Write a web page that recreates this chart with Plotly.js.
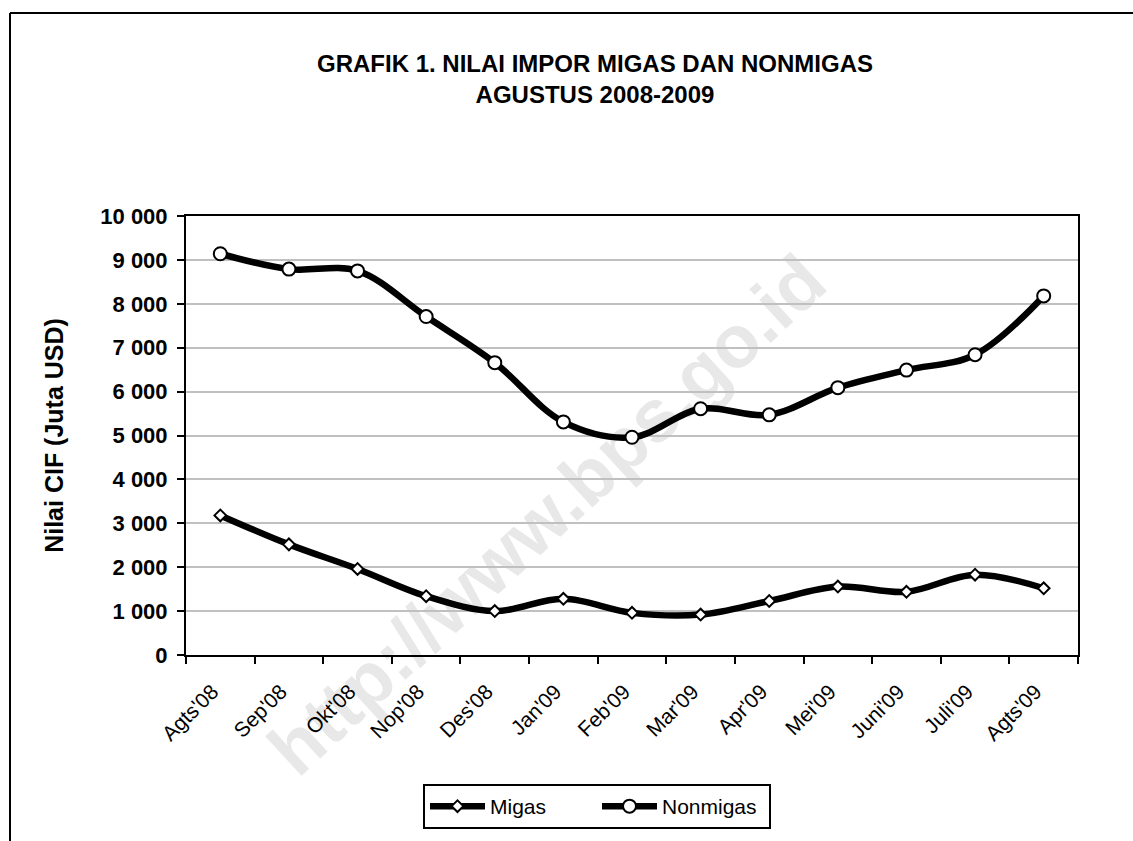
<!DOCTYPE html>
<html>
<head>
<meta charset="utf-8">
<script src="https://cdn.plot.ly/plotly-3.0.1.min.js"></script>
<style>
  html, body { margin: 0; padding: 0; background: #ffffff; }
  #chart { width: 1133px; height: 841px; }
</style>
</head>
<body>
<div id="chart"></div>
<script>
// ---- Data ----
const months = ["Agts'08", "Sep'08", "Okt'08", "Nop'08", "Des'08", "Jan'09", "Feb'09",
                "Mar'09", "Apr'09", "Mei'09", "Juni'09", "Juli'09", "Agts'09"];
const migas    = [3180, 2520, 1960, 1340, 1000, 1280, 960, 920, 1230, 1560, 1440, 1830, 1520];
const nonmigas = [9140, 8790, 8750, 7710, 6660, 5310, 4960, 5610, 5470, 6090, 6490, 6840, 8180];
const seriesNames = ["Migas", "Nonmigas"];
const titleLines = ["GRAFIK 1. NILAI IMPOR MIGAS DAN NONMIGAS", "AGUSTUS 2008-2009"];
const yTitle = "Nilai CIF (Juta USD)";
const watermark = "http://www.bps.go.id";

// ---- Layout geometry (pixels of the 1133x841 canvas) ----
const W = 1133, H = 841;
const L = 186, R = 1078, T = 216, B = 655;
const px = x => (x - L) / (R - L);
const py = y => (B - y) / (B - T);

const FONT = "Liberation Sans, Arial, Helvetica, sans-serif";

const traces = [
  {
    x: months, y: migas, name: seriesNames[0], type: "scatter", mode: "lines+markers",
    line: { color: "#000000", width: 6.5, shape: "spline", smoothing: 1 },
    marker: { symbol: "diamond", size: 9, color: "#ffffff", line: { color: "#000000", width: 2 } }
  },
  {
    x: months, y: nonmigas, name: seriesNames[1], type: "scatter", mode: "lines+markers",
    line: { color: "#000000", width: 6.5, shape: "spline", smoothing: 1 },
    marker: { symbol: "circle", size: 13, color: "#ffffff", line: { color: "#000000", width: 2 } }
  }
];

const layout = {
  width: W, height: H,
  margin: { l: L, r: W - R, t: T, b: H - B, pad: 0 },
  paper_bgcolor: "#ffffff",
  plot_bgcolor: "rgba(0,0,0,0)",
  separators: ". ",
  font: { family: FONT, color: "#000000" },
  title: {
    text: titleLines.join("<br>"),
    font: { family: FONT, size: 24, color: "#000000", weight: "bold" },
    xref: "container", x: 595 / W, xanchor: "center",
    yref: "container", y: 1 - 72 / H, yanchor: "top"
  },
  showlegend: true,
  legend: {
    orientation: "h",
    x: px(597), xanchor: "center",
    y: py(784), yanchor: "top",
    bordercolor: "#000000", borderwidth: 2,
    bgcolor: "#ffffff",
    font: { family: FONT, size: 21, color: "#000000" },
    itemwidth: 55,
    entrywidth: 102,
    traceorder: "normal"
  },
  xaxis: {
    type: "category",
    tickson: "boundaries",
    ticks: "outside", ticklen: 7, tickwidth: 2, tickcolor: "#000000",
    tickangle: -45,
    ticklabelstandoff: 14,
    ticklabelshift: -8,
    tickfont: { family: FONT, size: 21, color: "#000000" },
    showline: true, linewidth: 2, linecolor: "#000000", mirror: true,
    showgrid: false, zeroline: false,
    range: [-0.5, 12.5], fixedrange: true
  },
  yaxis: {
    range: [0, 10000], dtick: 1000, tick0: 0,
    tickformat: ",",
    ticks: "outside", ticklen: 7, tickwidth: 2, tickcolor: "#000000",
    ticklabelstandoff: 5,
    tickfont: { family: FONT, size: 22, color: "#000000", weight: "bold" },
    showline: true, linewidth: 2, linecolor: "#000000", mirror: true,
    showgrid: true, gridcolor: "#c0c0c0", gridwidth: 2,
    zeroline: false,
    title: { text: yTitle, font: { family: FONT, size: 25, color: "#000000", weight: "bold" }, standoff: 30 },
    fixedrange: true
  },
  shapes: [
    // watermark (invisible line carrying a rotated label)
    {
      type: "line", xref: "paper", yref: "paper", layer: "below",
      x0: px(262), y0: py(768), x1: px(822), y1: py(251),
      line: { width: 0, color: "rgba(0,0,0,0)" },
      label: {
        text: watermark, textangle: -42.7, textposition: "middle",
        xanchor: "center", yanchor: "middle", padding: 0,
        font: { family: FONT, size: 74, color: "#e8e8e8", weight: "bold" }
      }
    },
    // outer frame: top and left edges
    {
      type: "line", xref: "paper", yref: "paper", layer: "above",
      x0: px(10), y0: py(13), x1: px(1140), y1: py(13),
      line: { color: "#000000", width: 2 }
    },
    {
      type: "line", xref: "paper", yref: "paper", layer: "above",
      x0: px(10), y0: py(13), x1: px(10), y1: py(850),
      line: { color: "#000000", width: 2 }
    }
  ]
};

Plotly.newPlot("chart", traces, layout, { displayModeBar: false, staticPlot: true });
</script>
</body>
</html>
